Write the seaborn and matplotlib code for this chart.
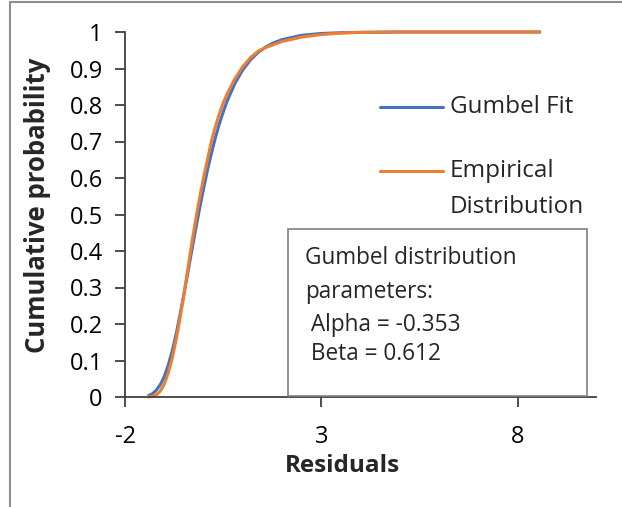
import matplotlib
matplotlib.use("Agg")
import matplotlib.pyplot as plt
import seaborn as sns
import pandas as pd
from matplotlib.patches import Rectangle
from matplotlib.lines import Line2D

# ---- data ----
fit_x = [-1.42, -1.3, -1.2, -1.1, -1.0, -0.9, -0.8, -0.7, -0.6, -0.5, -0.4, -0.3, -0.2, -0.1,
         0.0, 0.1, 0.2, 0.3, 0.4, 0.5, 0.6, 0.8, 1.0, 1.2, 1.4, 1.6, 1.8, 2.0, 2.5, 3.0,
         3.5, 4.0, 5.0, 6.0, 7.0, 8.6]
fit_y = [0.003, 0.009, 0.019, 0.034, 0.056, 0.087, 0.125, 0.171, 0.224, 0.281, 0.340, 0.400,
         0.459, 0.516, 0.570, 0.621, 0.667, 0.709, 0.747, 0.780, 0.810, 0.859, 0.896, 0.924,
         0.945, 0.960, 0.971, 0.979, 0.991, 0.996, 0.998, 0.999, 1.0, 1.0, 1.0, 1.0]
emp_x = [-1.42, -1.3, -1.2, -1.1, -1.0, -0.9, -0.8, -0.7, -0.6, -0.5, -0.4, -0.3, -0.2, -0.1,
         0.0, 0.1, 0.2, 0.3, 0.4, 0.5, 0.6, 0.8, 1.0, 1.2, 1.4, 1.6, 1.8, 2.0, 2.5, 3.0,
         3.5, 4.0, 5.0, 6.0, 7.0, 8.6]
emp_y = [0.0, 0.002, 0.006, 0.016, 0.035, 0.065, 0.105, 0.155, 0.215, 0.28, 0.35, 0.42,
         0.485, 0.545, 0.60, 0.65, 0.70, 0.74, 0.775, 0.805, 0.83, 0.872, 0.905, 0.93,
         0.948, 0.958, 0.966, 0.974, 0.986, 0.993, 0.997, 0.999, 1.0, 1.0, 1.0, 1.0]
series_names = ["Gumbel Fit", "Empirical\nDistribution"]
x_ticks = [-2, 3, 8]
y_ticks = [0, 0.1, 0.2, 0.3, 0.4, 0.5, 0.6, 0.7, 0.8, 0.9, 1]
y_tick_labels = ["0", "0.1", "0.2", "0.3", "0.4", "0.5", "0.6", "0.7", "0.8", "0.9", "1"]
box_lines = ["Gumbel distribution", "parameters:", " Alpha = -0.353", " Beta = 0.612"]

df = pd.concat([
    pd.DataFrame({"x": fit_x, "y": fit_y, "series": series_names[0]}),
    pd.DataFrame({"x": emp_x, "y": emp_y, "series": series_names[1]}),
], ignore_index=True)

sns.set_style("ticks")
plt.rcParams["font.family"] = ["Open Sans", "DejaVu Sans"]

W, H = 622, 507
fig = plt.figure(figsize=(W / 100, H / 100), dpi=100)
ax = fig.add_axes([125 / W, 1 - 397 / H, (596 - 125) / W, (397 - 32) / H])

colors = {series_names[0]: "#4472C4", series_names[1]: "#ED7D31"}
sns.lineplot(data=df, x="x", y="y", hue="series", palette=colors, ax=ax,
             linewidth=2.2, legend=False, sort=False, estimator=None)
for ln in ax.lines:
    ln.set_clip_on(False)
    ln.set_solid_capstyle("butt")

ax.set_xlim(-2, 10)
ax.set_ylim(0, 1)
ax.set_xticks(x_ticks)
ax.set_xticklabels([str(v) for v in x_ticks])
ax.set_yticks(y_ticks)
ax.set_yticklabels(y_tick_labels)
for s in ["top", "right"]:
    ax.spines[s].set_visible(False)
for s in ["left", "bottom"]:
    ax.spines[s].set_color("#404040")
    ax.spines[s].set_linewidth(1.3)
ax.tick_params(axis="both", direction="out", length=7, width=1.3, color="#404040",
               labelsize=17, labelcolor="#000000")
ax.tick_params(axis="x", pad=13)
ax.tick_params(axis="y", pad=9)

ax.set_xlabel("Residuals", fontsize=17.5, fontweight="bold")
ax.xaxis.label.set_va("center")
ax.xaxis.set_label_coords((342 - 125) / 471, -(466 - 397) / 365)
ax.set_ylabel("Cumulative probability", fontsize=18.5, fontweight="bold")
ax.yaxis.label.set_va("center")
ax.yaxis.set_label_coords((38 - 125) / 471, (397 - 205) / 365)

# parameter text box
x0 = (288 - 125) / 471
x1 = (587 - 125) / 471
y1 = (397 - 229) / 365
ax.add_patch(Rectangle((x0, 0.004), x1 - x0, y1 - 0.004, transform=ax.transAxes,
                       facecolor="white", edgecolor="#7f7f7f", linewidth=1.2, zorder=5,
                       clip_on=False))
line_y = [258, 292, 325, 354]
for txt, yy in zip(box_lines, line_y):
    ax.text((305 - 125) / 471, (397 - yy) / 365, txt, transform=ax.transAxes,
            fontsize=16.3, va="center", ha="left", zorder=6)

# legend (drawn to match the reference layout)
leg_y = [107, 171]
for name, yy in zip(series_names, leg_y):
    yf = (397 - yy) / 365
    ax.add_line(Line2D([(380 - 125) / 471, (443 - 125) / 471], [yf, yf],
                       transform=ax.transAxes, color=colors[name], linewidth=2.2,
                       clip_on=False))
    ax.text((450 - 125) / 471, yf, name.split("\n")[0], transform=ax.transAxes,
            fontsize=17.5, va="center", ha="left")
ax.text((450 - 125) / 471, (397 - 207) / 365, series_names[1].split("\n")[1],
        transform=ax.transAxes, fontsize=17.5, va="center", ha="left")

# chart frame (left and top edges visible in the reference crop)
fig.add_artist(Line2D([10 / W, 10 / W], [0, 1 - 2 / H], color="#8c8c8c", linewidth=1.5))
fig.add_artist(Line2D([10 / W, 1], [1 - 2 / H, 1 - 2 / H], color="#8c8c8c", linewidth=1.5))

fig.savefig("out.png", dpi=100)
